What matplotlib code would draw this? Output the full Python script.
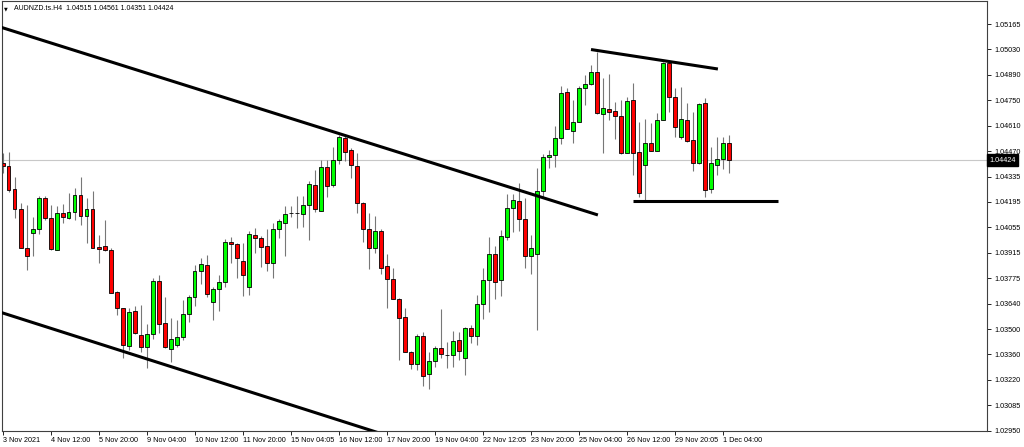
import matplotlib
matplotlib.use("Agg")
import matplotlib.pyplot as plt
import numpy as np
from matplotlib.transforms import blended_transform_factory

plt.rcParams['font.family'] = ['Liberation Sans', 'DejaVu Sans']

# AUDNZD H4 candles (bar 0 = 3 Nov 04:00)
opens = [
    1.04407, 1.04392, 1.04265, 1.04156, 1.03947, 1.04025, 1.04047, 1.04216, 1.04107, 1.03935,
    1.04134, 1.04107, 1.04143, 1.04234, 1.04121, 1.04156, 1.03951, 1.03955, 1.03935, 1.03707,
    1.03617, 1.03412, 1.03602, 1.03472, 1.03405, 1.03475, 1.03767, 1.03535, 1.03397, 1.03415,
    1.03462, 1.03586, 1.03677, 1.03820, 1.03853, 1.03653, 1.03720, 1.03762, 1.03976, 1.03967,
    1.03875, 1.03735, 1.04016, 1.04002, 1.03956, 1.03865, 1.04049, 1.04080, 1.04134, 1.04134,
    1.04129, 1.04180, 1.04289, 1.04149, 1.04388, 1.04289, 1.04425, 1.04543, 1.04479, 1.04392,
    1.04189, 1.04049, 1.03944, 1.04040, 1.03849, 1.03775, 1.03668, 1.03568, 1.03381, 1.03314,
    1.03466, 1.03258, 1.03332, 1.03402, 1.03363, 1.03363, 1.03444, 1.03345, 1.03508, 1.03466,
    1.03639, 1.03771, 1.03911, 1.03770, 1.04007, 1.04162, 1.04201, 1.04103, 1.03902, 1.03911,
    1.04256, 1.04439, 1.04452, 1.04546, 1.04793, 1.04583, 1.04633, 1.04815, 1.04840, 1.04902,
    1.04675, 1.04701, 1.04693, 1.04664, 1.04464, 1.04751, 1.04467, 1.04397, 1.04516, 1.04475,
    1.04643, 1.04954, 1.04766, 1.04551, 1.04643, 1.04534, 1.04407, 1.04733, 1.04265, 1.04396,
    1.04428, 1.04515]
highs = [
    1.04461, 1.04470, 1.04330, 1.04192, 1.04180, 1.04113, 1.04229, 1.04229, 1.04180, 1.04174,
    1.04185, 1.04247, 1.04271, 1.04334, 1.04216, 1.04256, 1.04016, 1.04098, 1.03944, 1.03713,
    1.03617, 1.03617, 1.03629, 1.03635, 1.03532, 1.03780, 1.03798, 1.03680, 1.03563, 1.03554,
    1.03662, 1.03689, 1.03853, 1.03889, 1.03907, 1.03735, 1.03798, 1.03993, 1.04007, 1.03974,
    1.03974, 1.04040, 1.04056, 1.04011, 1.04047, 1.04080, 1.04102, 1.04176, 1.04176, 1.04230,
    1.04230, 1.04310, 1.04370, 1.04425, 1.04425, 1.04494, 1.04561, 1.04561, 1.04488, 1.04464,
    1.04198, 1.04134, 1.04121, 1.04049, 1.03911, 1.03838, 1.03675, 1.03620, 1.03385, 1.03475,
    1.03490, 1.03381, 1.03413, 1.03612, 1.03435, 1.03493, 1.03490, 1.03517, 1.03526, 1.03689,
    1.03835, 1.04004, 1.03958, 1.04043, 1.04238, 1.04238, 1.04301, 1.04219, 1.04016, 1.04379,
    1.04456, 1.04479, 1.04611, 1.04829, 1.04818, 1.04751, 1.04829, 1.04888, 1.04942, 1.05014,
    1.04870, 1.04893, 1.04742, 1.04751, 1.04766, 1.04846, 1.04633, 1.04646, 1.04625, 1.04679,
    1.04960, 1.04960, 1.04815, 1.04824, 1.04737, 1.04688, 1.04737, 1.04761, 1.04494, 1.04548,
    1.04548, 1.04561]
lows = [
    1.04352, 1.04252, 1.04107, 1.03944, 1.03826, 1.03902, 1.04020, 1.04098, 1.03935, 1.03935,
    1.04082, 1.04102, 1.04098, 1.04071, 1.03974, 1.03944, 1.03865, 1.03929, 1.03699, 1.03581,
    1.03345, 1.03390, 1.03477, 1.03381, 1.03290, 1.03448, 1.03484, 1.03399, 1.03326, 1.03408,
    1.03444, 1.03544, 1.03631, 1.03749, 1.03680, 1.03554, 1.03604, 1.03735, 1.03862, 1.03780,
    1.03686, 1.03689, 1.03920, 1.03844, 1.03822, 1.03780, 1.03998, 1.03904, 1.04113, 1.04053,
    1.04061, 1.03989, 1.04140, 1.04149, 1.04225, 1.04279, 1.04401, 1.04419, 1.04325, 1.04134,
    1.03980, 1.03831, 1.03917, 1.03802, 1.03617, 1.03668, 1.03335, 1.03381, 1.03285, 1.03281,
    1.03196, 1.03176, 1.03296, 1.03345, 1.03290, 1.03296, 1.03335, 1.03254, 1.03426, 1.03417,
    1.03557, 1.03597, 1.03668, 1.03686, 1.03989, 1.04034, 1.04038, 1.03838, 1.03804, 1.03498,
    1.04216, 1.04379, 1.04385, 1.04510, 1.04594, 1.04516, 1.04633, 1.04724, 1.04833, 1.04674,
    1.04464, 1.04643, 1.04537, 1.04457, 1.04464, 1.04343, 1.04225, 1.04207, 1.04475, 1.04475,
    1.04643, 1.04688, 1.04548, 1.04537, 1.04524, 1.04366, 1.04403, 1.04222, 1.04243, 1.04343,
    1.04374, 1.04351]
closes = [
    1.04392, 1.04261, 1.04156, 1.03944, 1.03904, 1.04047, 1.04216, 1.04107, 1.03938, 1.04134,
    1.04113, 1.04143, 1.04234, 1.04121, 1.04156, 1.03947, 1.03942, 1.03935, 1.03702, 1.03617,
    1.03417, 1.03599, 1.03481, 1.03405, 1.03475, 1.03767, 1.03530, 1.03405, 1.03448, 1.03462,
    1.03586, 1.03677, 1.03820, 1.03857, 1.03695, 1.03720, 1.03762, 1.03976, 1.03967, 1.03889,
    1.03798, 1.04020, 1.03998, 1.03953, 1.03865, 1.04049, 1.04092, 1.04131, 1.04134, 1.04134,
    1.04180, 1.04292, 1.04156, 1.04388, 1.04285, 1.04425, 1.04548, 1.04467, 1.04397, 1.04189,
    1.04049, 1.03944, 1.04040, 1.03835, 1.03775, 1.03668, 1.03566, 1.03381, 1.03314, 1.03466,
    1.03248, 1.03332, 1.03399, 1.03367, 1.03363, 1.03441, 1.03386, 1.03508, 1.03466, 1.03639,
    1.03771, 1.03911, 1.03759, 1.04011, 1.04162, 1.04207, 1.04102, 1.03902, 1.03947, 1.04256,
    1.04443, 1.04452, 1.04543, 1.04791, 1.04594, 1.04633, 1.04815, 1.04840, 1.04902, 1.04679,
    1.04706, 1.04688, 1.04664, 1.04464, 1.04746, 1.04461, 1.04243, 1.04516, 1.04475, 1.04643,
    1.04951, 1.04766, 1.04606, 1.04646, 1.04530, 1.04410, 1.04730, 1.04261, 1.04410, 1.04428,
    1.04519, 1.04424]

date_labels = ["3 Nov 2021", "4 Nov 12:00", "5 Nov 20:00", "9 Nov 04:00", "10 Nov 12:00",
               "11 Nov 20:00", "15 Nov 04:05", "16 Nov 12:00", "17 Nov 20:00", "19 Nov 04:00",
               "22 Nov 12:05", "23 Nov 20:00", "25 Nov 04:00", "26 Nov 12:00", "29 Nov 20:05",
               "1 Dec 04:00"]
price_labels = ["1.05165", "1.05030", "1.04890", "1.04750", "1.04610", "1.04470", "1.04335",
                "1.04195", "1.04055", "1.03915", "1.03775", "1.03640", "1.03500", "1.03360",
                "1.03220", "1.03085", "1.02950"]
current_price = 1.04424

# hand drawn trendlines (bar index, price)
channel_top_x = [-0.45, 99.2]
channel_top_y = [1.05149, 1.04125]
channel_bot_x = [-0.45, 70.0]
channel_bot_y = [1.03596, 1.02862]
top_line_x = [98.05, 119.2]
top_line_y = [1.05026, 1.04920]
support_x = [105.1, 129.2]
support_y = [1.04201, 1.04201]

o = np.array(opens)
h = np.array(highs)
l = np.array(lows)
c = np.array(closes)
idx = np.arange(len(o))

fig = plt.figure(figsize=(10.24, 4.47), dpi=100)
ax = fig.add_axes([1.5 / 1024, 16 / 447, 985.5 / 1024, 430 / 447])

ax.axhline(current_price, color="#c8c8c8", lw=0.8, zorder=0)

ax.vlines(idx, l, h, color="#777777", lw=0.8, zorder=1)
colors = np.where(c > o, "#00ff00", np.where(c < o, "#ff0000", "black"))
ax.bar(idx, np.abs(c - o), bottom=np.minimum(o, c), width=0.6, color=colors,
       edgecolor="black", linewidth=0.6, zorder=2)

for xs, ys in [(channel_top_x, channel_top_y), (channel_bot_x, channel_bot_y),
               (top_line_x, top_line_y), (support_x, support_y)]:
    ax.plot(xs, ys, color="black", lw=2.2, solid_capstyle="butt", zorder=3)

ax.set_xlim(-0.2, 164.05)
ax.set_ylim(1.029485, 1.052903)

ax.set_yticks(np.linspace(1.05165, 1.02950, 17), price_labels)
ax.yaxis.tick_right()
ax.tick_params(axis="y", direction="out", length=3, width=0.6, pad=2.5, labelsize=5.2)

ax.set_xticks(np.arange(len(date_labels)) * 8, date_labels)
ax.tick_params(axis="x", direction="out", length=3, width=0.6, pad=1.5, labelsize=5.2)
for t in ax.get_xticklabels():
    t.set_horizontalalignment("left")

for s in ax.spines.values():
    s.set_linewidth(0.8)
    s.set_color("#404040")

trans = blended_transform_factory(ax.transAxes, ax.transData)
ax.annotate(f"{current_price:.5f}", xy=(1, current_price), xycoords=trans,
            xytext=(1.8, 0), textcoords="offset points", ha="left", va="center",
            fontsize=5.2, color="white",
            bbox=dict(boxstyle="square,pad=0.3", fc="black", ec="black"))

fig.text(4 / 1024, 1 - 8.5 / 447, "\u25bc", fontsize=3.5, va="center", family="DejaVu Sans")
fig.text(14 / 1024, 1 - 8.5 / 447, "AUDNZD.ts.H4  1.04515 1.04561 1.04351 1.04424",
         fontsize=5, va="center")

fig.savefig("out.png", dpi=100)
